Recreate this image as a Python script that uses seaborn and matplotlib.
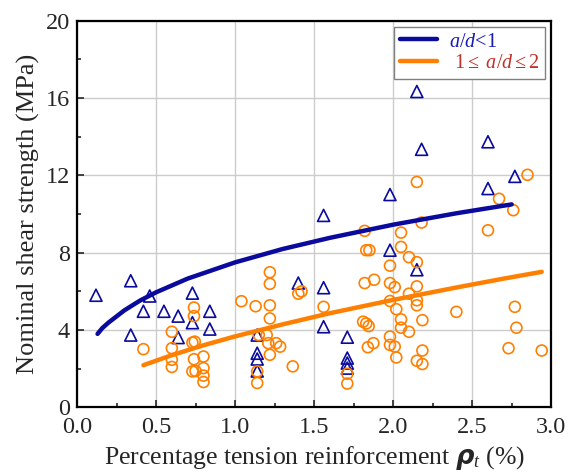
import pandas as pd
import seaborn as sns
import matplotlib.pyplot as plt
from matplotlib.ticker import MultipleLocator
from matplotlib.lines import Line2D

# Test data: a/d < 1 (triangles)
tri_rho = [0.12, 0.34, 0.46, 0.42, 0.55, 0.64, 0.73, 0.73, 0.84, 0.84, 0.34, 0.64,
           1.14, 1.14, 1.14, 1.14, 1.40, 1.56, 1.56, 1.56, 1.71, 1.71, 1.71, 1.71,
           1.98, 1.98, 2.15, 2.18, 2.15, 2.60, 2.60, 2.77]
tri_v = [5.80, 6.55, 5.76, 4.97, 4.97, 4.72, 5.91, 4.38, 4.97, 4.05, 3.74, 3.61,
         3.74, 2.80, 2.50, 1.88, 6.43, 6.19, 4.17, 9.93, 3.63, 2.55, 2.29, 2.03,
         11.01, 8.13, 16.34, 13.35, 7.12, 13.74, 11.32, 11.95]

# 1 <= a/d <= 2 (circles)
cir_rho = [0.42, 0.60, 0.60, 0.60, 0.60, 0.74, 0.74, 0.73, 0.745, 0.74, 0.73, 0.75,
           0.80, 0.80, 0.80, 0.80, 1.04,
           1.13, 1.22, 1.22, 1.22, 1.22, 1.15, 1.20, 1.21, 1.26, 1.285, 1.22,
           1.14, 1.14, 1.365, 1.40, 1.42, 1.56,
           1.71, 1.71, 1.82, 1.83, 1.85, 1.82, 1.88, 1.81, 1.83, 1.845, 1.84, 1.875,
           1.98, 1.98, 2.01, 1.98, 2.02, 2.05, 2.05, 2.10, 1.98, 1.98, 2.01, 2.02,
           2.05, 2.05, 2.10, 2.15, 2.15, 2.10, 2.15, 2.15, 2.185, 2.185, 2.15, 2.185,
           2.15, 2.18,
           2.40, 2.60, 2.67, 2.76, 2.85, 2.77, 2.78, 2.73, 2.94]
cir_v = [3.01, 3.91, 3.06, 2.46, 2.09, 5.16, 4.72, 3.35, 3.40, 2.49, 1.86, 1.88,
         2.63, 2.03, 1.64, 1.31, 5.49,
         5.23, 6.99, 6.39, 5.28, 4.60, 3.74, 3.74, 3.32, 3.32, 3.14, 2.72,
         1.86, 1.26, 2.12, 5.88, 6.00, 5.20,
         1.74, 1.23, 9.13, 8.13, 8.13, 6.43, 6.60, 4.43, 4.34, 4.20, 3.11, 3.32,
         7.33, 6.43, 6.22, 5.50, 5.08, 4.55, 4.12, 3.91, 3.66, 3.23, 3.14, 2.58,
         9.04, 8.30, 7.77, 7.51, 6.26, 5.88, 5.54, 5.28, 4.51, 2.94, 2.41, 2.24,
         11.66, 9.56,
         4.94, 9.16, 10.79, 10.20, 12.03, 5.20, 4.12, 3.06, 2.94]

# Trend curves
fit1_rho = [0.13, 0.16, 0.2, 0.3, 0.4, 0.5, 0.7, 1.0, 1.3, 1.6, 2.0, 2.4, 2.75]
fit1_v = [3.80, 4.10, 4.39, 5.02, 5.53, 5.95, 6.66, 7.50, 8.19, 8.77, 9.45, 10.04, 10.50]
fit2_rho = [0.42, 0.6, 0.8, 1.0, 1.3, 1.6, 2.0, 2.4, 2.7, 2.94]
fit2_v = [2.18, 2.70, 3.21, 3.67, 4.29, 4.87, 5.56, 6.20, 6.66, 7.01]

BLUE = "#0a0a9c"
ORANGE = "#ff8000"

sns.set_style("ticks")
plt.rcParams["font.family"] = ["Liberation Serif", "DejaVu Serif"]
plt.rcParams["mathtext.fontset"] = "custom"
plt.rcParams["mathtext.rm"] = "Liberation Serif"
plt.rcParams["mathtext.it"] = "Liberation Serif:italic"
plt.rcParams["mathtext.bf"] = "DejaVu Sans:bold:italic"

fig, ax = plt.subplots(figsize=(5.79, 4.72), dpi=100)
fig.subplots_adjust(left=0.133, right=0.952, bottom=0.137, top=0.956)

df_tri = pd.DataFrame({"rho": tri_rho, "v": tri_v})
df_cir = pd.DataFrame({"rho": cir_rho, "v": cir_v})

sns.scatterplot(data=df_tri, x="rho", y="v", marker="^", s=75, facecolor="none",
                edgecolor=BLUE, linewidth=1.2, ax=ax, zorder=3)
sns.scatterplot(data=df_cir, x="rho", y="v", marker="o", s=62, facecolor="none",
                edgecolor=ORANGE, linewidth=1.2, ax=ax, zorder=3)

sns.lineplot(x=fit1_rho, y=fit1_v, color=BLUE, lw=3.2, ax=ax, zorder=4)
sns.lineplot(x=fit2_rho, y=fit2_v, color=ORANGE, lw=3.2, ax=ax, zorder=4)

ax.set_xlim(0, 3.0)
ax.set_ylim(0, 20)
ax.xaxis.set_major_locator(MultipleLocator(0.5))
ax.xaxis.set_minor_locator(MultipleLocator(0.25))
ax.yaxis.set_major_locator(MultipleLocator(4))
ax.yaxis.set_minor_locator(MultipleLocator(2))
ax.set_xticklabels([f"{t:.1f}" for t in ax.get_xticks()])
ax.tick_params(which="both", direction="in", labelsize=17.5, width=1.2)
ax.tick_params(which="major", length=5)
ax.tick_params(which="minor", length=3)
ax.tick_params(axis="x", pad=7)
ax.tick_params(axis="y", pad=5)
ax.grid(True, which="major", color="#cccccc", lw=1.0)
for sp in ax.spines.values():
    sp.set_visible(True)
    sp.set_color("black")
    sp.set_linewidth(1.6)

ax.set_xlabel(r"Percentage tension reinforcement $\mathbf{\rho}_{t}$ (%)", fontsize=18.5,
              labelpad=4)
ax.set_ylabel("Nominal shear strength (MPa)", fontsize=19, labelpad=4)

handles = [Line2D([], [], color=BLUE, lw=3.2), Line2D([], [], color=ORANGE, lw=3.2)]
leg = ax.legend(handles, [r"$a/d$<1", r" 1$\leq$ $a/d$$\leq$2"], loc="upper right",
                fontsize=14.5, frameon=True, fancybox=False, edgecolor="#808080",
                framealpha=1, handlelength=1.85, handletextpad=0.6, labelspacing=0.12,
                borderpad=0.28, borderaxespad=0.3)
leg.get_frame().set_linewidth(1.0)
leg.get_texts()[0].set_color("#1a1ab8")
leg.get_texts()[1].set_color("#c0302a")

fig.savefig("out.png", dpi=100)
